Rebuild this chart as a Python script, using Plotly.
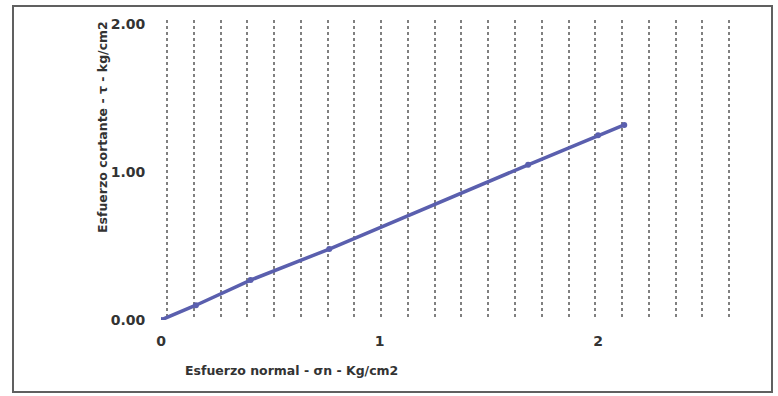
import plotly.graph_objects as go

# Direct shear test: normal stress vs shear stress (failure envelope)
sigma_n = [0.0, 0.16, 0.41, 0.77, 1.68, 2.00, 2.12]
tau = [0.0, 0.10, 0.27, 0.48, 1.05, 1.25, 1.32]

x_ticks = [0, 1, 2]
y_ticks = [0.0, 1.0, 2.0]

x_title = "Esfuerzo normal - σn - Kg/cm2"
y_title = "Esfuerzo cortante - τ - kg/cm2"

W, H = 778, 396
L, R, T, B = 161, 27, 20, 76
pw, ph = W - L - R, H - T - B

BOLD = "DejaVu Sans, Liberation Sans, Arial, sans-serif"
INK = "#333333"


def px(x):
    return (x - L) / pw


def py(y):
    return (H - B - y) / ph


fig = go.Figure()
fig.add_trace(go.Scatter(
    x=sigma_n, y=tau, mode="lines+markers",
    line=dict(color="#5a5fae", width=3.5),
    marker=dict(color="#5a5fae", size=6),
    showlegend=False,
))

fig.update_layout(
    width=W, height=H,
    margin=dict(l=L, r=R, t=T, b=B),
    paper_bgcolor="white", plot_bgcolor="white",
    font=dict(family=BOLD, color=INK),
    xaxis=dict(
        range=[0, 2.7], tickvals=x_ticks, ticktext=[str(v) for v in x_ticks],
        showgrid=False, zeroline=False, showline=False,
        ticks="outside", ticklen=8, tickcolor="white",
        tickfont=dict(size=14, weight=700, color=INK),
        minor=dict(dtick=0.1225, tick0=0.0275, showgrid=True,
                   gridcolor="#808080", griddash="dot", gridwidth=1.5),
    ),
    yaxis=dict(
        range=[0, 2.03], tickvals=y_ticks, tickformat=".2f",
        showgrid=False, zeroline=False, showline=False,
        ticks="outside", ticklen=12, tickcolor="white",
        tickfont=dict(size=14, weight=700, color=INK),
    ),
    shapes=[dict(
        type="rect", xref="paper", yref="paper",
        x0=px(13), x1=px(772), y0=py(392), y1=py(6),
        line=dict(color="#606060", width=2),
    )],
    annotations=[
        dict(text=x_title, xref="paper", yref="paper", x=px(291), y=py(370),
             xanchor="center", yanchor="middle", showarrow=False,
             font=dict(size=12.5, weight=700, color=INK)),
        dict(text=y_title, xref="paper", yref="paper", x=px(102), y=py(127),
             xanchor="center", yanchor="middle", textangle=-90,
             showarrow=False, font=dict(size=12.5, weight=700, color=INK)),
    ],
)

fig.write_html("out.html")
